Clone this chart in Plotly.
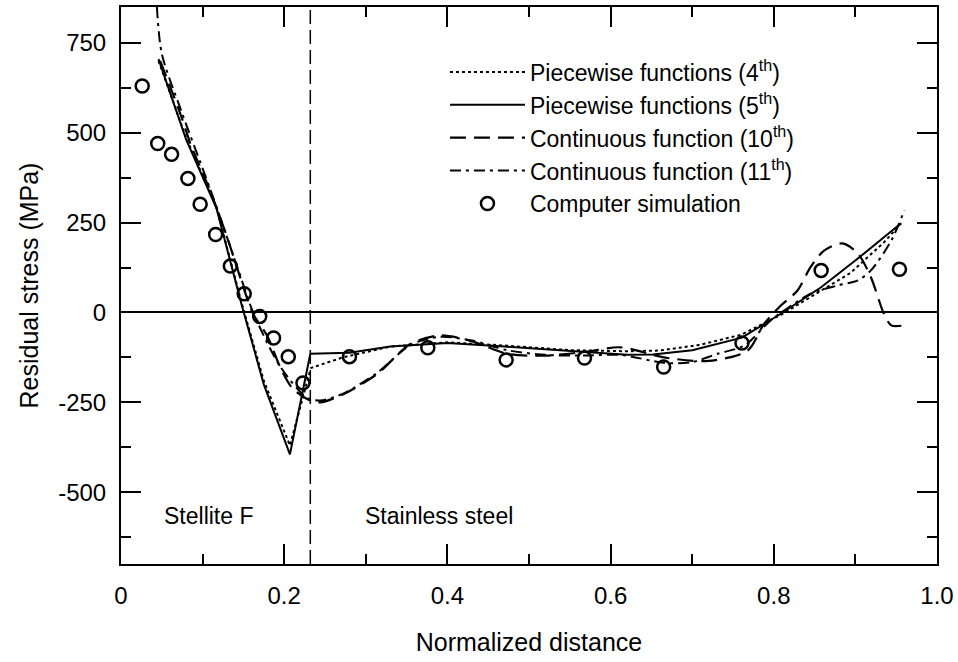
import plotly.graph_objects as go

# ---------------- data ----------------
interface_x = 0.232

# Piecewise functions (4th order) - Stellite piece and stainless steel piece
p4_stellite_x = [0.046, 0.080, 0.117, 0.148, 0.175, 0.207, 0.232]
p4_stellite_y = [700, 485, 292, 25, -190, -370, -160]
p4_steel_x = [0.232, 0.272, 0.330, 0.400, 0.470, 0.550, 0.620, 0.660, 0.710, 0.760, 0.810, 0.853, 0.894, 0.935, 0.956]
p4_steel_y = [-155, -125, -95, -83, -92, -105, -108, -106, -90, -62, -5, 55, 110, 195, 248]

# Piecewise functions (5th order)
p5_stellite_x = [0.046, 0.080, 0.117, 0.148, 0.175, 0.207, 0.232]
p5_stellite_y = [705, 480, 290, 20, -200, -395, -115]
p5_steel_x = [0.232, 0.280, 0.330, 0.400, 0.470, 0.550, 0.620, 0.652, 0.700, 0.761, 0.809, 0.858, 0.903, 0.956]
p5_steel_y = [-115, -112, -95, -85, -95, -108, -118, -117, -105, -70, -3, 70, 150, 248]

# Continuous function (10th order)
c10_x = [0.048, 0.074, 0.085, 0.109, 0.130, 0.142, 0.162, 0.179, 0.195, 0.209, 0.228, 0.244, 0.273,
         0.314, 0.355, 0.391, 0.430, 0.473, 0.520, 0.568, 0.612, 0.665, 0.720, 0.768, 0.788, 0.809,
         0.829, 0.845, 0.862, 0.884, 0.903, 0.919, 0.935, 0.944, 0.960]
c10_y = [700, 545, 470, 340, 210, 126, -4, -64, -152, -208, -241, -250, -227,
         -171, -87, -64, -80, -115, -120, -110, -97, -125, -135, -106, -32, 20,
         61, 126, 173, 192, 164, 98, -4, -36, -36]

# Continuous function (11th order)
c11_x = [0.044, 0.050, 0.074, 0.109, 0.142, 0.162, 0.195, 0.228, 0.244, 0.273, 0.314, 0.355, 0.390,
         0.430, 0.473, 0.520, 0.568, 0.612, 0.665, 0.698, 0.731, 0.764, 0.796, 0.813, 0.845, 0.878,
         0.903, 0.919, 0.944, 0.960]
c11_y = [850, 720, 560, 345, 130, 0, -150, -238, -245, -225, -168, -90, -68,
         -78, -105, -118, -120, -118, -140, -139, -115, -92, -22, 6, 52, 75,
         89, 117, 200, 284]

# Computer simulation
sim_x = [0.026, 0.045, 0.062, 0.082, 0.097, 0.116, 0.134, 0.151, 0.170, 0.187, 0.205, 0.223,
         0.280, 0.376, 0.472, 0.568, 0.665, 0.761, 0.858, 0.954]
sim_y = [630, 470, 440, 373, 301, 217, 129, 52, -11, -71, -123, -196,
         -123, -98, -132, -127, -152, -85, 117, 120]

x_tickvals = [0, 0.2, 0.4, 0.6, 0.8, 1.0]
x_ticktext = ["0", "0.2", "0.4", "0.6", "0.8", "1.0"]
x_minor = [0.1, 0.3, 0.5, 0.7, 0.9]
y_tickvals = [-500, -250, 0, 250, 500, 750]
y_ticktext = ["-500", "-250", "0", "250", "500", "750"]
y_minor = [-625, -375, -125, 125, 375, 625]

region_labels = ["Stellite F", "Stainless steel"]
region_label_x = [0.107, 0.39]
region_label_y = [-566, -566]

names = ["Piecewise functions (4<sup>th</sup>)", "Piecewise functions (5<sup>th</sup>)",
         "Continuous function (10<sup>th</sup>)", "Continuous function (11<sup>th</sup>)",
         "Computer simulation"]

FONT = "Liberation Sans, Arial, Helvetica, sans-serif"

fig = go.Figure()

fig.add_trace(go.Scatter(
    x=p4_stellite_x + [None] + p4_steel_x, y=p4_stellite_y + [None] + p4_steel_y,
    mode="lines", name=names[0], line=dict(color="black", width=2, dash="dot")))
fig.add_trace(go.Scatter(
    x=p5_stellite_x + [None] + p5_steel_x, y=p5_stellite_y + [None] + p5_steel_y,
    mode="lines", name=names[1], line=dict(color="black", width=2)))
fig.add_trace(go.Scatter(
    x=c10_x, y=c10_y, mode="lines", name=names[2],
    line=dict(color="black", width=2.2, dash="16px,8px", shape="spline", smoothing=0.8)))
fig.add_trace(go.Scatter(
    x=c11_x, y=c11_y, mode="lines", name=names[3],
    line=dict(color="black", width=2, dash="11px,5px,3px,5px", shape="spline", smoothing=0.8)))
fig.add_trace(go.Scatter(
    x=sim_x, y=sim_y, mode="markers", name=names[4],
    marker=dict(symbol="circle-open", size=13, color="black", line=dict(width=2.5, color="black"))))

fig.add_shape(type="line", xref="x", yref="paper", x0=interface_x, x1=interface_x, y0=0, y1=1,
              line=dict(color="black", width=1.5, dash="14px,6px"))

for t, x, y in zip(region_labels, region_label_x, region_label_y):
    fig.add_annotation(x=x, y=y, text=t, showarrow=False, font=dict(size=23, color="black", family=FONT))

axis_common = dict(showline=True, linewidth=2, linecolor="black", mirror="allticks",
                   ticks="inside", ticklen=20, tickwidth=2, tickcolor="black", automargin=False,
                   showgrid=False, tickfont=dict(size=24, color="black", family=FONT))

fig.update_xaxes(range=[0, 1.0], tickvals=x_tickvals, ticktext=x_ticktext, zeroline=False,
                 minor=dict(tickvals=x_minor, ticks="inside", ticklen=10, tickwidth=2, tickcolor="black"),
                 title=dict(text="Normalized distance", font=dict(size=25, color="black", family=FONT), standoff=26),
                 ticklabelstandoff=9, **axis_common)
fig.update_yaxes(range=[-700, 850], tickvals=y_tickvals, ticktext=y_ticktext,
                 zeroline=True, zerolinecolor="black", zerolinewidth=1.5,
                 minor=dict(tickvals=y_minor, ticks="inside", ticklen=10, tickwidth=2, tickcolor="black"),
                 title=dict(text="Residual stress (MPa)", font=dict(size=25, color="black", family=FONT), standoff=12),
                 ticklabelstandoff=8, **axis_common)

fig.update_layout(
    width=958, height=662,
    margin=dict(l=121, r=21, t=7, b=98),
    plot_bgcolor="white", paper_bgcolor="white",
    font=dict(family=FONT, color="black"),
    legend=dict(x=0.397, y=0.922, xanchor="left", yanchor="top", bgcolor="rgba(0,0,0,0)",
                font=dict(size=23, color="black", family=FONT), itemwidth=75, tracegroupgap=0),
)

fig.write_html("out.html", config={"displayModeBar": False},
               post_script="document.body.style.margin='0';")
